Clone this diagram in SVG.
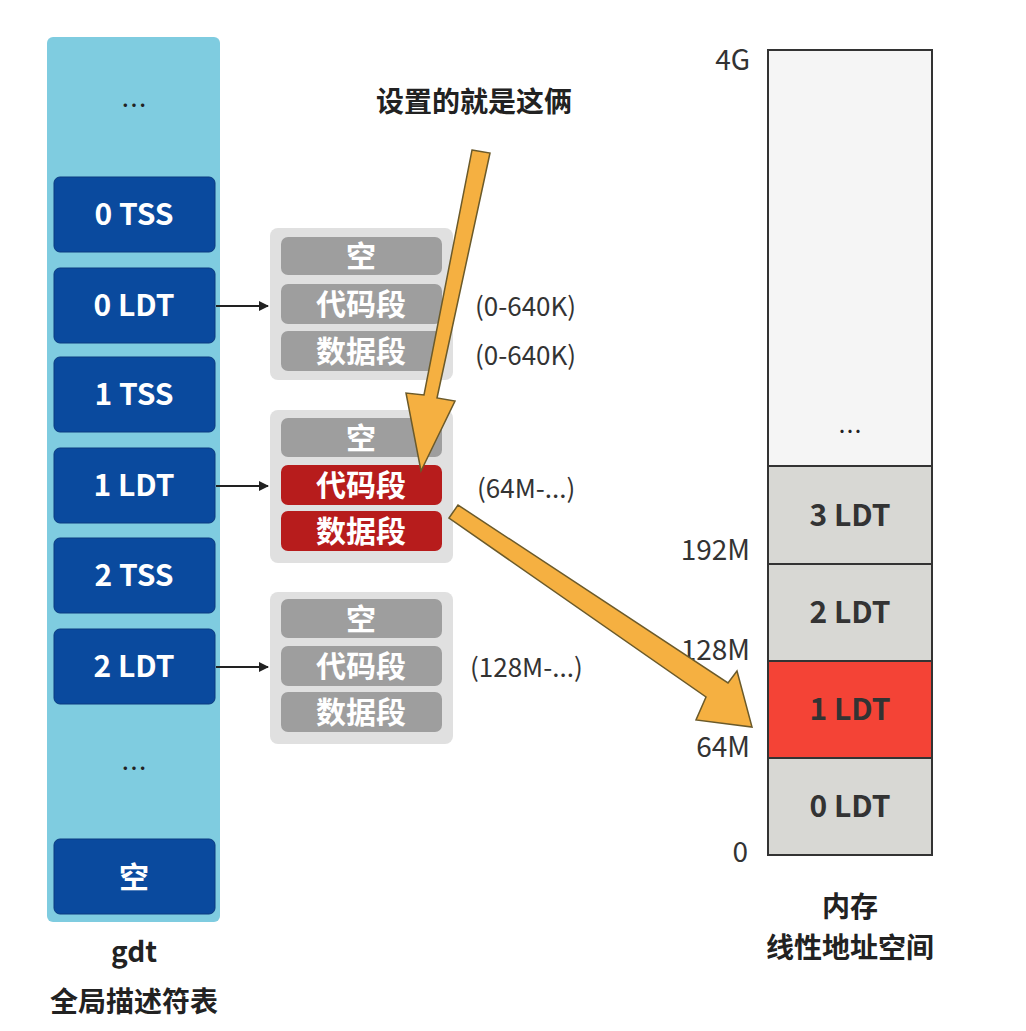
<svg xmlns="http://www.w3.org/2000/svg" width="1026" height="1031" viewBox="0 0 1026 1031">
<style>
text{font-family:"Noto Sans CJK SC","Noto Sans",sans-serif;text-anchor:middle}
.g{fill:#0A4A9E;stroke:#0A3A80;stroke-width:1}
.gt{fill:#fff;font-size:30px;font-weight:bold}
.s{fill:#9E9E9E}
.sr{fill:#B71C1C}
.st{fill:#fff;font-size:30px;font-weight:bold}
.lbl{fill:#333;font-size:26px;text-anchor:start}
.ml{fill:#333;font-size:28px;text-anchor:end}
.mem{stroke:#333;stroke-width:2}
.mt{fill:#333;font-size:30px;font-weight:bold}
.cap{fill:#222;font-size:28px;font-weight:bold}
.arr{fill:#F5B041;stroke:#6b5a2a;stroke-width:1.5}
</style>
<defs><marker id="ah" markerWidth="10" markerHeight="10" refX="9" refY="5" orient="auto" markerUnits="userSpaceOnUse"><path d="M0,0 L10,5 L0,10 z" fill="#222"/></marker></defs>
<g id="gdt">
<rect x="47" y="37" width="173" height="885" rx="6" fill="#7FCCE0"/>
<text x="134" y="115" style="fill:#222;font-size:26px">…</text>
<rect class="g" x="54" y="177" width="161" height="75" rx="6"/><text class="gt" x="134" y="225">0 TSS</text>
<rect class="g" x="54" y="268" width="161" height="75" rx="6"/><text class="gt" x="134" y="316">0 LDT</text>
<rect class="g" x="54" y="357" width="161" height="75" rx="6"/><text class="gt" x="134" y="405">1 TSS</text>
<rect class="g" x="54" y="448" width="161" height="75" rx="6"/><text class="gt" x="134" y="496">1 LDT</text>
<rect class="g" x="54" y="538" width="161" height="75" rx="6"/><text class="gt" x="134" y="586">2 TSS</text>
<rect class="g" x="54" y="629" width="161" height="75" rx="6"/><text class="gt" x="134" y="677">2 LDT</text>
<text x="134" y="778" style="fill:#222;font-size:26px">…</text>
<rect class="g" x="54" y="839" width="161" height="75" rx="6"/><text class="gt" x="134" y="888">空</text>
<text class="cap" x="134" y="962">gdt</text>
<text class="cap" x="134" y="1012">全局描述符表</text>
</g>
<g id="ldt0">
<rect x="270" y="228" width="183" height="152" rx="8" fill="#E0E0E0"/>
<rect class="s" x="281" y="237" width="161" height="38" rx="7"/><text class="st" x="361" y="267">空</text>
<rect class="s" x="281" y="284" width="161" height="40" rx="7"/><text class="st" x="361" y="315">代码段</text>
<rect class="s" x="281" y="331" width="161" height="40" rx="7"/><text class="st" x="361" y="362">数据段</text>
<text class="lbl" x="475" y="316">(0-640K)</text>
<text class="lbl" x="475" y="365">(0-640K)</text>
</g>
<g id="ldt1">
<rect x="270" y="410" width="183" height="153" rx="8" fill="#E0E0E0"/>
<rect class="s" x="281" y="418" width="161" height="39" rx="7"/><text class="st" x="361" y="449">空</text>
<rect class="sr" x="281" y="465" width="161" height="40" rx="7"/><text class="st" x="361" y="496">代码段</text>
<rect class="sr" x="281" y="511" width="161" height="40" rx="7"/><text class="st" x="361" y="542">数据段</text>
<text class="lbl" x="477" y="498">(64M-...)</text>
</g>
<g id="ldt2">
<rect x="270" y="592" width="183" height="152" rx="8" fill="#E0E0E0"/>
<rect class="s" x="281" y="599" width="161" height="39" rx="7"/><text class="st" x="361" y="630">空</text>
<rect class="s" x="281" y="646" width="161" height="40" rx="7"/><text class="st" x="361" y="677">代码段</text>
<rect class="s" x="281" y="692" width="161" height="40" rx="7"/><text class="st" x="361" y="723">数据段</text>
<text class="lbl" x="470" y="677">(128M-...)</text>
</g>
<g id="memory">
<rect class="mem" x="768" y="50" width="164" height="416" fill="#F5F5F5"/>
<text x="850" y="440" style="fill:#222;font-size:24px">…</text>
<rect class="mem" x="768" y="466" width="164" height="98" fill="#D8D8D4"/><text class="mt" x="850" y="526">3 LDT</text>
<rect class="mem" x="768" y="564" width="164" height="97" fill="#D8D8D4"/><text class="mt" x="850" y="623">2 LDT</text>
<rect class="mem" x="768" y="661" width="164" height="97" fill="#F44336"/><text class="mt" x="850" y="720">1 LDT</text>
<rect class="mem" x="768" y="758" width="164" height="97" fill="#D8D8D4"/><text class="mt" x="850" y="817">0 LDT</text>
<text class="ml" x="750" y="70">4G</text>
<text class="ml" x="750" y="560">192M</text>
<text class="ml" x="750" y="660">128M</text>
<text class="ml" x="750" y="757">64M</text>
<text class="ml" x="748" y="862">0</text>
<text class="cap" x="850" y="917">内存</text>
<text class="cap" x="850" y="958">线性地址空间</text>
</g>
<text x="474" y="112" style="fill:#222;font-size:28px;font-weight:bold">设置的就是这俩</text>
<g id="connectors">
<line x1="216" y1="306" x2="268" y2="306" stroke="#222" stroke-width="2" marker-end="url(#ah)"/>
<line x1="216" y1="486" x2="268" y2="486" stroke="#222" stroke-width="2" marker-end="url(#ah)"/>
<line x1="216" y1="667" x2="268" y2="667" stroke="#222" stroke-width="2" marker-end="url(#ah)"/>
<polygon class="arr" d="" points="472,150 490,153 437,398 455,401 421,471 406,393 424,395"/>
<polygon class="arr" points="449,518 458,505 728,683 737,671 752,727 696,720 706,697"/>
</g>
</svg>
